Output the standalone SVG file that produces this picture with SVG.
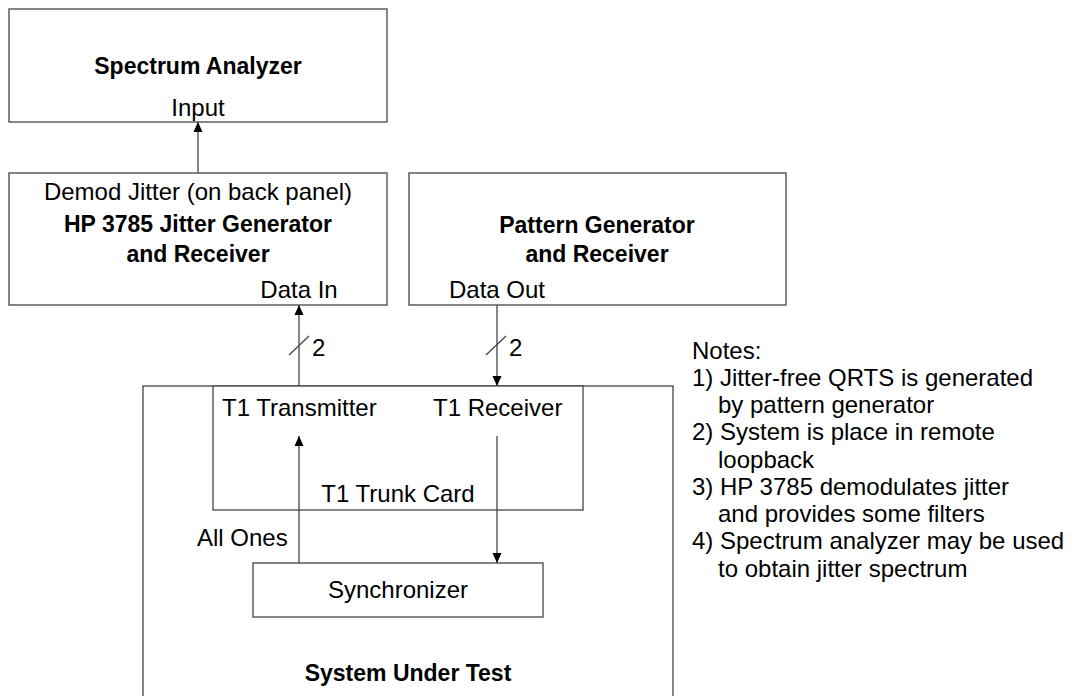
<svg xmlns="http://www.w3.org/2000/svg" width="1071" height="696" viewBox="0 0 1071 696">
<style>
.box{fill:#fff;stroke:#444;stroke-width:1.3}
.ln{fill:none;stroke:#444;stroke-width:1.3}
text{font-family:"Liberation Sans",Arial,sans-serif;font-size:24px;fill:#000}
.b{font-weight:bold;font-size:23px}
.c{text-anchor:middle}
</style>
<defs>
<marker id="ah" markerWidth="10" markerHeight="11" refX="11" refY="5" orient="auto" markerUnits="userSpaceOnUse" viewBox="0 0 11 10">
<path d="M0,0 L11,5 L0,10 Z" fill="#000"/>
</marker>
</defs>
<rect width="1071" height="696" fill="#fff"/>
<g id="spectrum-analyzer">
<rect class="box" x="9" y="9" width="378" height="113"/>
<text class="b c" x="198" y="74">Spectrum Analyzer</text>
<text class="c" x="198" y="116">Input</text>
</g>
<g id="hp3785">
<rect class="box" x="9" y="173" width="378" height="132"/>
<text class="c" x="198" y="200">Demod Jitter (on back panel)</text>
<text class="b c" x="198" y="232">HP 3785 Jitter Generator</text>
<text class="b c" x="198" y="262">and Receiver</text>
<text class="c" x="299" y="298">Data In</text>
</g>
<g id="pattern-generator">
<rect class="box" x="409" y="173" width="377" height="132"/>
<text class="b c" x="597" y="233">Pattern Generator</text>
<text class="b c" x="597" y="262">and Receiver</text>
<text class="c" x="497" y="298">Data Out</text>
</g>
<g id="system-under-test">
<rect class="box" x="143" y="386" width="530" height="330"/>
<text class="b c" x="408" y="681">System Under Test</text>
</g>
<g id="t1-trunk-card">
<rect class="box" x="213" y="386" width="370" height="124"/>
<text x="222" y="416">T1 Transmitter</text>
<text x="433" y="416">T1 Receiver</text>
<text class="c" x="398" y="502">T1 Trunk Card</text>
</g>
<g id="synchronizer">
<rect class="box" x="253" y="563" width="290" height="54"/>
<text class="c" x="398" y="598">Synchronizer</text>
</g>
<g id="connectors">
<line class="ln" x1="198" y1="173" x2="198" y2="122" marker-end="url(#ah)"/>
<line class="ln" x1="299" y1="386" x2="299" y2="305" marker-end="url(#ah)"/>
<line class="ln" x1="289" y1="355" x2="309" y2="336"/>
<text x="312" y="356">2</text>
<line class="ln" x1="497" y1="305" x2="497" y2="386" marker-end="url(#ah)"/>
<line class="ln" x1="486" y1="355" x2="506" y2="336"/>
<text x="509" y="356">2</text>
<line class="ln" x1="299" y1="563" x2="299" y2="436" marker-end="url(#ah)"/>
<text x="197" y="546">All Ones</text>
<line class="ln" x1="497" y1="436" x2="497" y2="563" marker-end="url(#ah)"/>
</g>
<g id="notes">
<text x="692" y="359">Notes:</text>
<text x="692" y="386">1) Jitter-free QRTS is generated</text>
<text x="718" y="413">by pattern generator</text>
<text x="692" y="440">2) System is place in remote</text>
<text x="718" y="468">loopback</text>
<text x="692" y="495">3) HP 3785 demodulates jitter</text>
<text x="718" y="522">and provides some filters</text>
<text x="692" y="549">4) Spectrum analyzer may be used</text>
<text x="718" y="577">to obtain jitter spectrum</text>
</g>
</svg>
